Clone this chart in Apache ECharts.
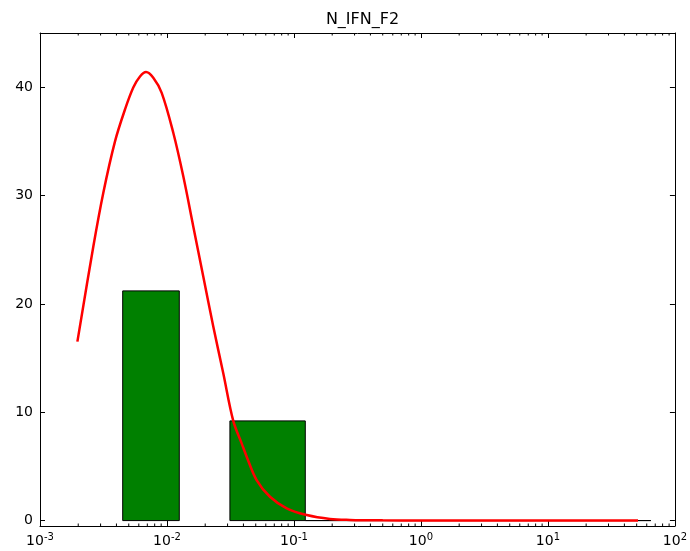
<!DOCTYPE html>
<html>
<head>
<meta charset="utf-8">
<script src="https://cdn.jsdelivr.net/npm/echarts@6/dist/echarts.min.js"></script>
<style>html,body{margin:0;padding:0;background:#fff;}#c{width:690px;height:551px;}</style>
</head>
<body>
<div id="c"></div>
<script>
// Histogram bins (log-spaced)
const binLeft  = [0.00448, 0.0313, 0.1228];
const binRight = [0.0125, 0.1228, 64.7];
const binCount = [21.2, 9.2, 0];

// Fitted density curve
const curveX = [0.00197, 0.00263, 0.00315, 0.003897, 0.004669, 0.005428, 0.006129, 0.00684, 0.0078, 0.009085, 0.01121, 0.01344, 0.01611, 0.01931, 0.02315, 0.02775, 0.03327, 0.03874, 0.04242, 0.0508, 0.0647, 0.0876, 0.126, 0.192, 0.276, 0.5, 1, 3, 10, 30, 51.2];
const curveY = [16.52, 25.3, 30.24, 35.0, 37.94, 39.97, 40.99, 41.39, 40.87, 39.48, 35.79, 31.77, 27.15, 22.53, 17.91, 13.6, 9.2, 7.13, 5.9, 3.74, 2.2, 1.13, 0.51, 0.15, 0.06, 0.02, 0.01, 0, 0, 0, 0];

const xTicks = [0.001, 0.01, 0.1, 1, 10, 100];
const xTickExp = ['-3', '-2', '-1', '0', '1', '2'];
const yTicks = [0, 10, 20, 30, 40];
const title = 'N_IFN_F2';

const minorTicks = [];
for (let d = -3; d <= 1; d++) for (let m = 2; m <= 9; m++) minorTicks.push(m * Math.pow(10, d));

const FONT = 'DejaVu Sans';
const YMIN = -0.5, YMAX = 45;

const chart = echarts.init(document.getElementById('c'), null, {renderer: 'canvas'});
const axisCommonX = {
  type: 'log', logBase: 10, min: 0.001, max: 100,
  axisLine: {onZero: false, lineStyle: {color: '#000', width: 1}},
  splitLine: {show: false},
  minorTick: {show: false}
};
chart.setOption({
  animation: false,
  title: {text: title, left: 357.5, textAlign: 'center', top: 7,
    textStyle: {fontFamily: FONT, fontSize: 16, fontWeight: 'normal', color: '#000'}},
  grid: {left: 40, right: 15, top: 33, bottom: 25, containLabel: false},
  xAxis: [
    Object.assign({}, axisCommonX, {
      position: 'bottom',
      axisTick: {inside: true, length: 5, customValues: xTicks, lineStyle: {color: '#000'}},
      axisLabel: {
        customValues: xTicks, margin: 6,
        formatter: function (v) {
          const i = xTicks.findIndex(t => Math.abs(Math.log10(t) - Math.log10(v)) < 1e-6);
          return '{b|10}{s|' + (i >= 0 ? xTickExp[i] : Math.round(Math.log10(v))) + '}';
        },
        rich: {
          b: {fontFamily: FONT, fontSize: 14, color: '#000'},
          s: {fontFamily: FONT, fontSize: 10, color: '#000', padding: [0, 0, 9, 0]}
        }
      }
    }),
    Object.assign({}, axisCommonX, {
      position: 'top',
      axisTick: {inside: true, length: 5, customValues: xTicks, lineStyle: {color: '#000'}},
      axisLabel: {show: false}
    })
  ],
  yAxis: [
    {type: 'value', min: YMIN, max: YMAX, position: 'left',
      axisLine: {show: true, onZero: false, lineStyle: {color: '#000', width: 1}},
      splitLine: {show: false},
      axisTick: {show: true, inside: true, length: 5, customValues: yTicks, lineStyle: {color: '#000'}},
      axisLabel: {customValues: yTicks, margin: 7, fontFamily: FONT, fontSize: 14, color: '#000'}},
    {type: 'value', min: YMIN, max: YMAX, position: 'right',
      axisLine: {show: true, onZero: false, lineStyle: {color: '#000', width: 1}},
      splitLine: {show: false},
      axisTick: {show: true, inside: true, length: 5, customValues: yTicks, lineStyle: {color: '#000'}},
      axisLabel: {show: false}}
  ],
  series: [
    {
      type: 'custom', xAxisIndex: 0, yAxisIndex: 0, z: 2,
      data: binLeft.map((l, i) => [l, binRight[i], binCount[i]]),
      renderItem: function (params, api) {
        const p0 = api.coord([api.value(0), api.value(2)]);
        const p1 = api.coord([api.value(1), 0]);
        return {
          type: 'rect',
          shape: {x: p0[0], y: p0[1], width: p1[0] - p0[0], height: p1[1] - p0[1]},
          style: {fill: '#008000', stroke: '#000', lineWidth: 1}
        };
      }
    },
    {
      type: 'line', xAxisIndex: 0, yAxisIndex: 0, z: 3,
      data: curveX.map((x, i) => [x, curveY[i]]),
      smooth: 0.35, showSymbol: false, symbol: 'none',
      lineStyle: {color: '#ff0000', width: 2.5}
    },
    {
      type: 'custom', xAxisIndex: 0, yAxisIndex: 0, z: 4, silent: true,
      data: minorTicks.map(v => [v]),
      renderItem: function (params, api) {
        const b = api.coord([api.value(0), YMIN]);
        const t = api.coord([api.value(0), YMAX]);
        return {
          type: 'group',
          children: [
            {type: 'line', shape: {x1: b[0], y1: b[1], x2: b[0], y2: b[1] - 2.5}, style: {stroke: '#000', lineWidth: 1}},
            {type: 'line', shape: {x1: t[0], y1: t[1], x2: t[0], y2: t[1] + 2.5}, style: {stroke: '#000', lineWidth: 1}}
          ]
        };
      }
    }
  ]
});
</script>
</body>
</html>
